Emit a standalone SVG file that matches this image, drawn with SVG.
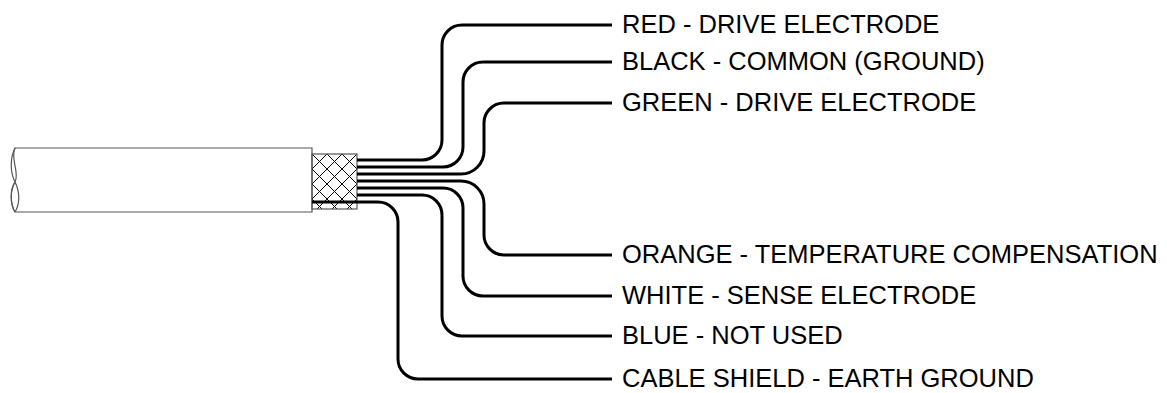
<svg xmlns="http://www.w3.org/2000/svg" width="1167" height="393" viewBox="0 0 1167 393">
<style>
.wire{fill:none;stroke:#000;stroke-width:3;stroke-linecap:butt;stroke-linejoin:round}
.outline{fill:#fff;stroke:#555;stroke-width:1.2}
.lbl{font-family:"Liberation Sans",Arial,sans-serif;font-size:25.5px;fill:#000}
</style>
<defs>
<pattern id="braid" patternUnits="userSpaceOnUse" x="312" y="154" width="15" height="15">
<path d="M0,0 L15,15 M15,0 L0,15" stroke="#000" stroke-width="1" fill="none"/>
</pattern>
</defs>
<rect width="1167" height="393" fill="#fff"/>
<g id="cable">
<path class="outline" d="M15,148 L312,148 L312,212 L15,212 C10,204 10,190 15,182 C20,172 10,160 15,148 Z"/>
<path d="M15,148 C10,158 10,172 15,182 C20,192 20,204 15,212 M15,182 C10,190 10,204 15,212" fill="none" stroke="#555" stroke-width="1.2"/>
<rect x="312" y="154" width="45" height="55" fill="url(#braid)" stroke="#555" stroke-width="1.2"/>
</g>
<g id="connectors">
<path class="wire" d="M357,160 H422 A20,20 0 0 0 442,140 V45 A20,20 0 0 1 462,25 H612"/>
<path class="wire" d="M357,167 H443 A20,20 0 0 0 463,147 V82 A20,20 0 0 1 483,62 H612"/>
<path class="wire" d="M357,174 H461 A23,23 0 0 0 484,151 V123 A20,20 0 0 1 504,103 H612"/>
<path class="wire" d="M357,181 H461 A23,23 0 0 1 484,204 V235 A20,20 0 0 0 504,255 H612"/>
<path class="wire" d="M357,188 H443 A20,20 0 0 1 463,208 V276 A20,20 0 0 0 483,296 H612"/>
<path class="wire" d="M357,195 H422 A20,20 0 0 1 442,215 V316 A20,20 0 0 0 462,336 H612"/>
<path class="wire" d="M312,202 H378 A20,20 0 0 1 398,222 V359 A20,20 0 0 0 418,379 H612"/>
</g>
<g id="label-red"><text class="lbl" x="622" y="33">RED - DRIVE ELECTRODE</text></g>
<g id="label-black"><text class="lbl" x="622" y="70">BLACK - COMMON (GROUND)</text></g>
<g id="label-green"><text class="lbl" x="622" y="111">GREEN - DRIVE ELECTRODE</text></g>
<g id="label-orange"><text class="lbl" x="622" y="263">ORANGE - TEMPERATURE COMPENSATION</text></g>
<g id="label-white"><text class="lbl" x="622" y="304">WHITE - SENSE ELECTRODE</text></g>
<g id="label-blue"><text class="lbl" x="622" y="344">BLUE - NOT USED</text></g>
<g id="label-shield"><text class="lbl" x="622" y="387">CABLE SHIELD - EARTH GROUND</text></g>
</svg>
